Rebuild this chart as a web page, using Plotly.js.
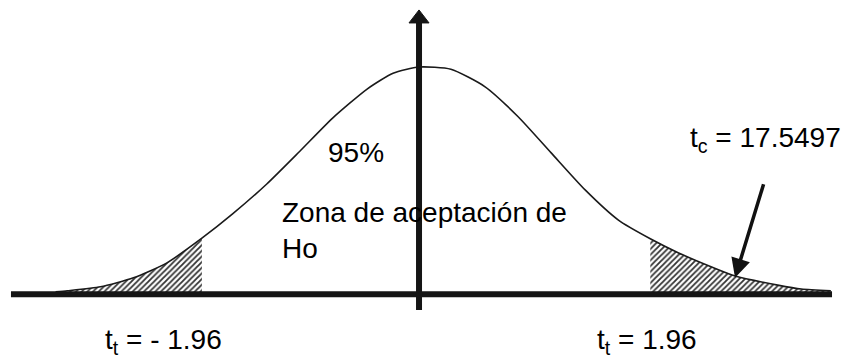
<!DOCTYPE html>
<html lang="es">

<head>
    <meta charset="UTF-8">
    <title>Zona de aceptación de Ho</title>
    <script src="https://cdn.plot.ly/plotly-3.0.1.min.js"></script>
    <style>
        html, body {
            margin: 0;
            padding: 0;
            background-color: white;
        }

        #chart {
            width: 845px;
            height: 358px;
        }
    </style>
</head>

<body>
    <div id="chart"></div>

    <script>
        // Curva (valores t y densidad)
        const tValues = [-3.08, -2.98, -2.70, -2.42, -2.14, -1.84, -1.58, -1.29, -1.01, -0.73, -0.44, -0.22, 0,
            0.27, 0.56, 0.84, 1.12, 1.41, 1.69, 1.96, 2.20, 2.48, 2.68, 3.04, 3.24, 3.49];
        const density = [0.002, 0.004, 0.011, 0.027, 0.053, 0.097, 0.140, 0.193, 0.251, 0.310, 0.361, 0.389, 0.400,
            0.396, 0.365, 0.312, 0.248, 0.182, 0.129, 0.096, 0.071, 0.046, 0.030, 0.014, 0.007, 0.004];

        // Límites de las zonas de rechazo (tal como están dibujados)
        const leftLimit = -1.84;
        const rightLimit = 1.96;

        // Textos
        const labelPercent = '95%';
        const labelZone = 'Zona de aceptación de<br>Ho';
        const labelTc = 't<sub>c</sub> = 17.5497';
        const labelLeft = 't<sub>t</sub> = - 1.96';
        const labelRight = 't<sub>t</sub> = 1.96';

        // Tramos sombreados
        const leftX = [], leftY = [], rightX = [], rightY = [];
        tValues.forEach((t, i) => {
            if (t <= leftLimit) { leftX.push(t); leftY.push(density[i]); }
            if (t >= rightLimit) { rightX.push(t); rightY.push(density[i]); }
        });

        const hatch = {
            shape: '/',
            fgcolor: '#333333',
            bgcolor: 'white',
            size: 4,
            solidity: 0.45
        };

        const traces = [
            {
                x: leftX, y: leftY, mode: 'lines', fill: 'tozeroy',
                line: { width: 0, shape: 'spline', smoothing: 0.6 },
                fillpattern: hatch, fillcolor: 'white', hoverinfo: 'skip'
            },
            {
                x: rightX, y: rightY, mode: 'lines', fill: 'tozeroy',
                line: { width: 0, shape: 'spline', smoothing: 0.6 },
                fillpattern: hatch, fillcolor: 'white', hoverinfo: 'skip'
            },
            {
                x: tValues, y: density, mode: 'lines',
                line: { color: '#1a1a1a', width: 1.6, shape: 'spline', smoothing: 0.6 },
                hoverinfo: 'skip'
            }
        ];

        // no hay fuente serif instalada: se usa Liberation Sans
        const textFont = { family: 'Liberation Sans, Arial, sans-serif', size: 28, color: 'black' };

        // posición en píxeles -> coordenadas de papel
        const px = v => v / 845;
        const py = v => 1 - v / 358;

        const layout = {
            width: 845,
            height: 358,
            margin: { l: 0, r: 0, t: 0, b: 0 },
            paper_bgcolor: 'white',
            plot_bgcolor: 'white',
            showlegend: false,
            font: textFont,
            xaxis: {
                range: [-3.551, 3.610],
                showgrid: false, zeroline: false, showticklabels: false, showline: false, ticks: ''
            },
            yaxis: {
                range: [-0.1150, 0.5186],
                showgrid: false, zeroline: false, showticklabels: false, showline: false, ticks: ''
            },
            shapes: [
                // eje horizontal
                { type: 'line', xref: 'x', yref: 'y', x0: -3.458, x1: 3.50, y0: -0.002, y1: -0.002,
                  line: { color: '#151515', width: 6 } },
                // eje vertical
                { type: 'line', xref: 'x', yref: 'y', x0: 0, x1: 0, y0: -0.030, y1: 0.480,
                  line: { color: '#151515', width: 6 } },
                // punta de flecha del eje vertical
                { type: 'path', xref: 'x', yref: 'y',
                  path: 'M -0.085 0.478 L 0.085 0.478 L 0 0.501 Z',
                  fillcolor: '#151515', line: { color: '#151515', width: 1 } }
            ],
            annotations: [
                { text: labelPercent, xref: 'paper', yref: 'paper', x: px(326), y: py(152),
                  xanchor: 'left', yanchor: 'middle', showarrow: false, font: textFont },
                { text: labelZone, xref: 'paper', yref: 'paper', x: px(280), y: py(231), align: 'left',
                  xanchor: 'left', yanchor: 'middle', showarrow: false, font: textFont },
                { text: labelTc, xref: 'paper', yref: 'paper', x: px(843), y: py(140),
                  xanchor: 'right', yanchor: 'middle', showarrow: false, font: textFont },
                { text: labelLeft, xref: 'paper', yref: 'paper', x: px(103), y: py(341),
                  xanchor: 'left', yanchor: 'middle', showarrow: false, font: textFont },
                { text: labelRight, xref: 'paper', yref: 'paper', x: px(595), y: py(341),
                  xanchor: 'left', yanchor: 'middle', showarrow: false, font: textFont },
                // flecha hacia t calculado
                { text: '', x: 2.678, y: 0.027, xref: 'x', yref: 'y', ax: 29, ay: -95,
                  showarrow: true, arrowhead: 2, arrowsize: 1.1, arrowwidth: 3.5, arrowcolor: '#111' }
            ]
        };

        Plotly.newPlot('chart', traces, layout, { staticPlot: true, displayModeBar: false });
    </script>
</body>

</html>
